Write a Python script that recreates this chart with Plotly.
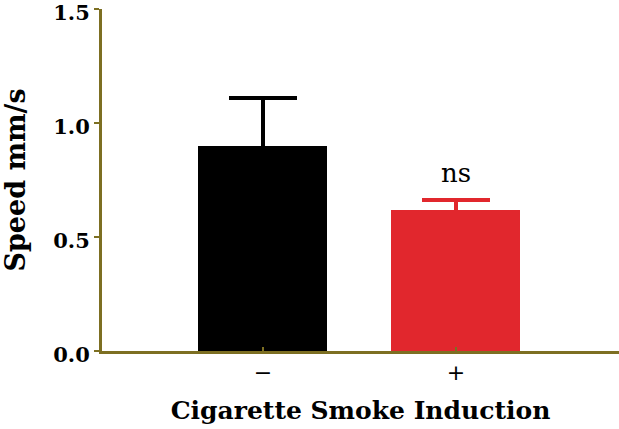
import plotly.graph_objects as go

categories = ["−", "+"]
speed = [0.90, 0.617]
err_up = [0.21, 0.045]
bar_colors = ["#000000", "#e1272d"]
y_ticks = [0.0, 0.5, 1.0, 1.5]
y_tick_labels = ["0.0", "0.5", "1.0", "1.5"]
annotation_text = "ns"

axis_color = "#7d6f22"
serif = "DejaVu Serif"

fig = go.Figure()
for i in range(len(categories)):
    fig.add_trace(go.Bar(
        x=[i], y=[speed[i]],
        width=0.668,
        marker=dict(color=bar_colors[i], line=dict(width=0)),
        error_y=dict(type="data", symmetric=True, array=[err_up[i]],
                     color=bar_colors[i], thickness=4, width=34),
        showlegend=False,
    ))

fig.add_annotation(x=1, y=speed[1] + err_up[1], yshift=10, text=annotation_text,
                   showarrow=False, yanchor="bottom",
                   font=dict(family=serif, size=26, color="#000000"))

fig.update_layout(
    width=619, height=429,
    margin=dict(l=102, r=0, t=9, b=78),
    plot_bgcolor="white", paper_bgcolor="white",
    bargap=0,
    xaxis=dict(
        range=[-0.834, 1.845], automargin=False,
        tickvals=list(range(len(categories))), ticktext=categories,
        showline=True, linecolor=axis_color, linewidth=3,
        ticks="inside", ticklen=4, tickwidth=2, tickcolor=axis_color,
        tickfont=dict(family="DejaVu Sans", size=22, color="#000000"),
        showgrid=False, zeroline=False,
        title=dict(text="<b>Cigarette Smoke Induction</b>", standoff=18,
                   font=dict(family=serif, size=25, color="#000000")),
    ),
    yaxis=dict(
        range=[0, 1.5], automargin=False, ticklabeloverflow="allow",
        ticklabelshift=4,
        tickvals=y_ticks, ticktext=["<b>%s</b>" % t for t in y_tick_labels],
        showline=True, linecolor=axis_color, linewidth=3,
        ticks="outside", ticklen=5, tickwidth=2, tickcolor=axis_color,
        tickfont=dict(family=serif, size=21, color="#000000"),
        showgrid=False, zeroline=False,
        title=dict(text="<b>Speed mm/s</b>", standoff=22,
                   font=dict(family=serif, size=27, color="#000000")),
    ),
)

fig.write_html("out.html", config={"displayModeBar": False},
               post_script="document.body.style.margin='0';")
